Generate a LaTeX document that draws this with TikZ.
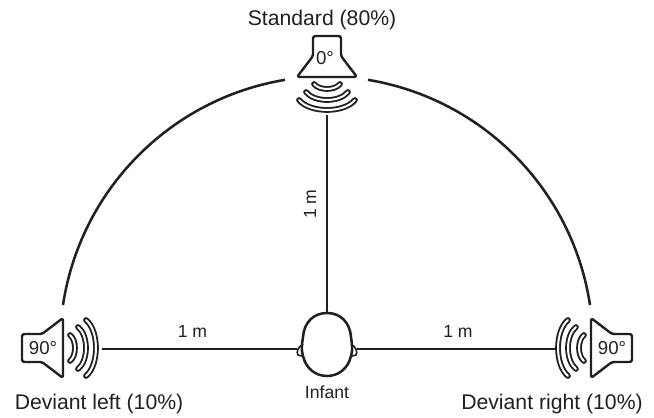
\documentclass[tikz,border=0pt]{standalone}
\usepackage{fontspec}
\setmainfont{Liberation Sans}
\definecolor{ink}{HTML}{231F20}
\tikzset{
    line/.style={draw=ink, line width=1.9pt},
    band/.style={draw=ink, line width=1.4pt, double=white, double distance=1.5pt, line cap=round},
    bigtext/.style={text=ink, font=\fontsize{15.9}{18}\selectfont, inner sep=0pt},
    midtext/.style={text=ink, font=\fontsize{14}{16}\selectfont, inner sep=0pt},
    smalltext/.style={text=ink, font=\fontsize{13.2}{15}\selectfont, inner sep=0pt},
    speaker/.pic={
        \draw[line, line width=1.8pt, rounded corners=1.8pt, line join=round]
            (0,-30) -- (-21,-14) -- (-41,-14) -- (-41,14) -- (-21,14) -- (0,30) -- cycle;
        \foreach \e/\h/\m in {7/13/12,15/21/23,23/28/33} {
            \draw[band] (\e,-\h) .. controls ({\e+1.33*(\m-\e)},{-0.6*\h}) and ({\e+1.33*(\m-\e)},{0.6*\h}) .. (\e,\h);
        }
    }
}
\begin{document}
\begin{tikzpicture}[x=0.75pt, y=0.75pt]
    \useasboundingbox (0,0) rectangle (654,418);
    % Loa
    \pic at (63,70) {speaker};
    \pic[rotate=-90] at (327,341) {speaker};
    \pic[xscale=-1] at (591,70) {speaker};
    \node[midtext] (labL) at (43,70) {90°};
    \node[midtext] (labT) at (325,360) {0°};
    \node[midtext] (labR) at (612,70) {90°};

    % Dau em be
    \coordinate (headT) at (327,105);
    \coordinate (headL) at (297,69);
    \coordinate (headR) at (357,69);
    \draw[line] (headT) .. controls (313,105) and (304,95) .. (303,81)
        .. controls (302,74) and (301,68) .. (303,62)
        .. controls (306,49) and (316,42) .. (327,42)
        .. controls (338,42) and (348,49) .. (351,62)
        .. controls (353,68) and (352,74) .. (351,81)
        .. controls (350,95) and (341,105) .. (headT);
    \draw[line, line width=1.2pt] (303,74) .. controls (298,71) and (296,66) .. (298,63) -- (302,62);
    \draw[line, line width=1.2pt] (351,74) .. controls (356,71) and (358,66) .. (356,63) -- (352,62);

    % Cac duong noi
    \coordinate (spkT) at (327,303);
    \coordinate (spkL) at (102,69);
    \coordinate (spkR) at (555,69);
    \draw[line] (spkT) -- (headT);
    \draw[line] (spkL) -- (headL);
    \draw[line] (spkR) -- (headR);
    \coordinate (arcLa) at (63,113);
    \coordinate (arcRa) at (590,113);
    \draw[line] (arcLa) arc[start angle=171.4, end angle=99.4, radius=269];
    \draw[line] (arcRa) arc[start angle=8.6, end angle=80.6, radius=269];

    % Chu
    \node[bigtext] (std) at (322,398) {Standard (80\%)};
    \node[bigtext] (devL) at (99,14) {Deviant left (10\%)};
    \node[bigtext] (devR) at (552,14) {Deviant right (10\%)};
    \node[smalltext] (inf) at (327,26) {Infant};
    \node[smalltext] (distL) at (192.5,87) {1 m};
    \node[smalltext] (distR) at (458,87) {1 m};
    \node[smalltext, rotate=90] (distT) at (310,214) {1 m};
\end{tikzpicture}
\end{document}
